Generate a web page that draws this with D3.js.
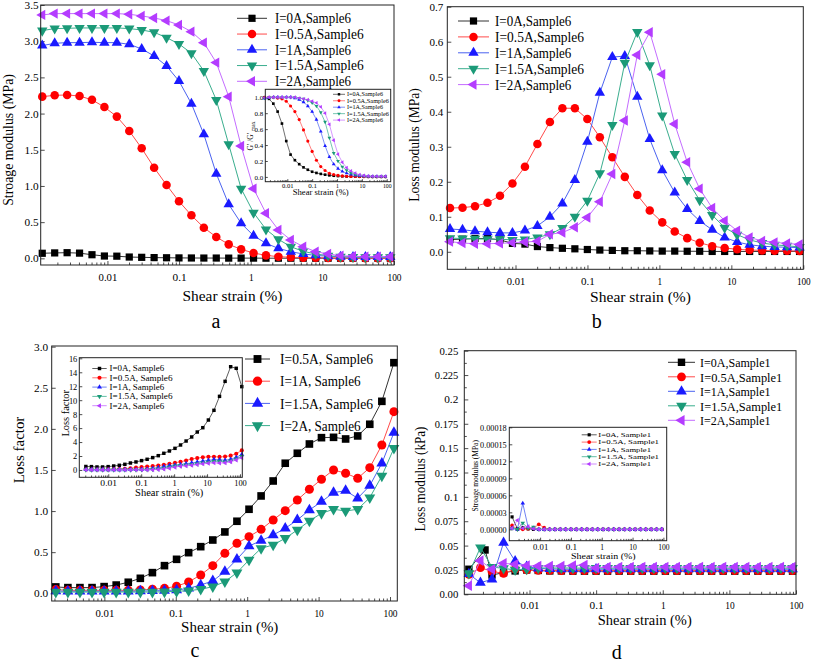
<!DOCTYPE html>
<html><head><meta charset="utf-8">
<script src="https://cdn.jsdelivr.net/npm/d3@7"></script>
<style>body{margin:0;background:#fff}svg{display:block}</style>
</head><body>
<svg id="chart" width="813" height="663"></svg>
<script>
// ---------------- DATA ----------------
const strain = [0.00123, 0.001834, 0.002735, 0.004078, 0.006081, 0.009068, 0.01352, 0.02016, 0.03006, 0.04482, 0.06683, 0.09966, 0.1486, 0.2216, 0.3304, 0.4927, 0.7345, 1.095, 1.633, 2.435, 3.631, 5.414, 8.072, 12.04, 17.95, 26.76, 39.90, 59.50, 88.72];
const strainC = [0.002089, 0.003084, 0.00455, 0.006721, 0.009917, 0.01464, 0.02161, 0.03189, 0.04707, 0.06948, 0.1026, 0.1514, 0.2235, 0.3299, 0.4868, 0.7186, 1.061, 1.566, 2.311, 3.411, 5.035, 7.432, 10.97, 16.19, 23.90, 35.28, 52.07, 76.86, 113.4];
const strainD0 = [0.00123, 0.00215, 0.002735, 0.004078, 0.006081, 0.009068, 0.01352, 0.02016, 0.03006, 0.04482, 0.06683, 0.09966, 0.1486, 0.2216, 0.3304, 0.4927, 0.7345, 1.095, 1.633, 2.435, 3.631, 5.414, 8.072, 12.04, 17.95, 26.76, 39.90, 59.50, 88.72];

// panel a: storage modulus (MPa)
const gA0  = [0.07, 0.075, 0.078, 0.072, 0.05, 0.032, 0.03, 0.018, 0.014, 0.01, 0.008, 0.006, 0.005, 0.004, 0.004, 0.003, 0.003, 0.003, 0.002, 0.002, 0.002, 0.002, 0.002, 0.002, 0.002, 0.002, 0.002, 0.002, 0.002];
const gA05 = [2.234, 2.252, 2.257, 2.243, 2.19, 2.09, 1.958, 1.76, 1.52, 1.253, 1.013, 0.788, 0.594, 0.424, 0.295, 0.193, 0.124, 0.074, 0.041, 0.023, 0.015, 0.01, 0.008, 0.006, 0.005, 0.004, 0.003, 0.003, 0.003];
const gA1  = [2.939, 2.971, 2.98, 2.98, 2.985, 2.98, 2.98, 2.957, 2.893, 2.796, 2.658, 2.45, 2.137, 1.713, 1.17, 0.746, 0.484, 0.313, 0.207, 0.138, 0.092, 0.06, 0.041, 0.028, 0.023, 0.018, 0.018, 0.018, 0.018];
const gA15 = [3.146, 3.174, 3.178, 3.183, 3.183, 3.183, 3.183, 3.174, 3.155, 3.123, 3.049, 2.962, 2.833, 2.589, 2.188, 1.575, 0.963, 0.631, 0.40, 0.263, 0.16, 0.097, 0.06, 0.037, 0.023, 0.018, 0.015, 0.015, 0.015];
const gA2  = [3.363, 3.381, 3.381, 3.381, 3.381, 3.381, 3.381, 3.372, 3.349, 3.321, 3.284, 3.224, 3.132, 2.98, 2.704, 2.234, 1.552, 0.963, 0.622, 0.392, 0.253, 0.161, 0.092, 0.06, 0.037, 0.028, 0.023, 0.023, 0.023];
// inset a: G'/G'max
const nA0  = [1.0, 0.98, 0.92, 0.82, 0.67, 0.45, 0.28, 0.21, 0.16, 0.12, 0.09, 0.065, 0.05, 0.038, 0.028, 0.02, 0.015, 0.011, 0.008, 0.006, 0.005, 0.004, 0.003, 0.003, 0.002, 0.002, 0.002, 0.002, 0.002];
const nA05 = [1.0, 1.0, 1.0, 0.99, 0.98, 0.95, 0.89, 0.82, 0.72, 0.59, 0.45, 0.32, 0.21, 0.13, 0.08, 0.045, 0.03, 0.02, 0.013, 0.009, 0.006, 0.005, 0.004, 0.003, 0.003, 0.002, 0.002, 0.002, 0.002];
const nA1  = [0.985, 0.995, 1, 1, 1, 1, 1, 0.99, 0.97, 0.94, 0.89, 0.82, 0.72, 0.57, 0.39, 0.25, 0.16, 0.105, 0.07, 0.046, 0.031, 0.02, 0.014, 0.009, 0.008, 0.006, 0.006, 0.006, 0.006];
const nA15 = [0.99, 1, 1, 1, 1, 1, 1, 1, 0.99, 0.98, 0.96, 0.93, 0.89, 0.81, 0.69, 0.49, 0.30, 0.2, 0.126, 0.083, 0.05, 0.03, 0.019, 0.012, 0.007, 0.005, 0.005, 0.005, 0.005];
const nA2  = [0.995, 1, 1, 1, 1, 1, 1, 1, 0.99, 0.98, 0.97, 0.95, 0.93, 0.88, 0.80, 0.66, 0.46, 0.285, 0.184, 0.116, 0.075, 0.048, 0.027, 0.018, 0.011, 0.008, 0.007, 0.007, 0.007];

// panel b: loss modulus (MPa)
const lB0  = [0.035, 0.036, 0.038, 0.038, 0.034, 0.024, 0.022, 0.015, 0.012, 0.01, 0.0085, 0.0065, 0.005, 0.004, 0.003, 0.003, 0.0025, 0.002, 0.002, 0.0015, 0.0015, 0.001, 0.001, 0.001, 0.001, 0.001, 0.001, 0.001, 0.001];
const lB05 = [0.125, 0.126, 0.13, 0.14, 0.16, 0.195, 0.243, 0.308, 0.371, 0.41, 0.41, 0.379, 0.327, 0.27, 0.214, 0.162, 0.118, 0.084, 0.058, 0.039, 0.026, 0.016, 0.011, 0.007, 0.005, 0.004, 0.003, 0.003, 0.002];
const lB1  = [0.065, 0.063, 0.059, 0.056, 0.054, 0.054, 0.061, 0.074, 0.1, 0.138, 0.205, 0.314, 0.454, 0.556, 0.559, 0.443, 0.322, 0.233, 0.169, 0.122, 0.088, 0.063, 0.041, 0.028, 0.02, 0.016, 0.014, 0.013, 0.012];
const lB15 = [0.039, 0.038, 0.037, 0.036, 0.036, 0.034, 0.035, 0.041, 0.05, 0.068, 0.1, 0.146, 0.224, 0.362, 0.54, 0.628, 0.533, 0.389, 0.279, 0.205, 0.147, 0.105, 0.069, 0.049, 0.034, 0.025, 0.02, 0.017, 0.014];
const lB2  = [0.029, 0.025, 0.023, 0.023, 0.024, 0.026, 0.028, 0.03, 0.05, 0.055, 0.07, 0.098, 0.143, 0.222, 0.375, 0.562, 0.627, 0.507, 0.365, 0.256, 0.18, 0.125, 0.089, 0.06, 0.041, 0.031, 0.027, 0.024, 0.021];

// panel c: loss factor
const lfC0  = [0.5, 0.48, 0.43, 0.43, 0.48, 0.57, 0.67, 0.81, 1.0, 1.15, 1.34, 1.53, 1.77, 2.05, 2.39, 2.72, 3.1, 3.58, 4.15, 4.73, 5.44, 6.06, 7.16, 8.55, 10.55, 12.7, 14.8, 14.57, 11.94];
const lfC05 = [0.077, 0.069, 0.069, 0.069, 0.081, 0.1, 0.134, 0.182, 0.251, 0.336, 0.413, 0.494, 0.567, 0.648, 0.746, 0.876, 1.022, 1.184, 1.366, 1.582, 1.703, 1.816, 1.893, 1.897, 1.877, 1.914, 2.056, 2.335, 2.805];
const lfC1  = [0.045, 0.036, 0.036, 0.036, 0.036, 0.036, 0.036, 0.04, 0.049, 0.06, 0.085, 0.138, 0.223, 0.336, 0.486, 0.608, 0.689, 0.778, 0.892, 1.005, 1.135, 1.265, 1.387, 1.5, 1.46, 1.399, 1.528, 1.804, 2.209];
const lfC15 = [0.028, 0.025, 0.025, 0.025, 0.025, 0.025, 0.025, 0.027, 0.03, 0.032, 0.04, 0.06, 0.101, 0.15, 0.263, 0.413, 0.575, 0.64, 0.709, 0.79, 0.892, 1.013, 1.114, 1.224, 1.248, 1.156, 1.309, 1.581, 1.954];
const lfC2  = [0.015, 0.015, 0.015, 0.015, 0.015, 0.015, 0.015, 0.015, 0.015, 0.018, 0.024, 0.032, 0.049, 0.08, 0.141, 0.251, 0.405, 0.547, 0.588, 0.669, 0.77, 0.88, 0.973, 1.022, 1.001, 1.022, 1.163, 1.427, 1.764];

// panel d: loss modulus (kPa), Sample1
const dL0  = [0.0257, 0.0455, 0.0198, 0.0222, 0.024, 0.025, 0.0245, 0.024, 0.024, 0.0238, 0.0238, 0.0238, 0.0238, 0.0238, 0.0238, 0.0238, 0.0238, 0.0238, 0.0238, 0.0238, 0.0238, 0.0238, 0.0238, 0.0238, 0.0238, 0.0238, 0.0238, 0.0238, 0.0238];
const dL05 = [0.0205, 0.0273, 0.0235, 0.0215, 0.0257, 0.025, 0.0245, 0.0245, 0.0244, 0.0243, 0.0243, 0.0243, 0.0243, 0.0243, 0.0243, 0.0243, 0.0243, 0.0243, 0.0243, 0.0243, 0.0243, 0.0243, 0.0243, 0.0243, 0.0243, 0.0243, 0.0243, 0.0243, 0.0243];
const dL1  = [0.0208, 0.0119, 0.0154, 0.053, 0.034, 0.0283, 0.0266, 0.026, 0.0257, 0.0257, 0.0257, 0.0257, 0.0257, 0.0257, 0.0257, 0.0257, 0.0257, 0.0257, 0.0257, 0.0257, 0.0257, 0.0257, 0.0257, 0.0257, 0.0257, 0.0257, 0.0257, 0.0257, 0.0257];
const dL15 = [0.0215, 0.048, 0.028, 0.0266, 0.025, 0.026, 0.027, 0.027, 0.027, 0.027, 0.0268, 0.0268, 0.0268, 0.0268, 0.0268, 0.0268, 0.0268, 0.0268, 0.0268, 0.0268, 0.0268, 0.0268, 0.0268, 0.0268, 0.0268, 0.0268, 0.0268, 0.0268, 0.0268];
const dL2  = [0.0088, 0.0345, 0.0257, 0.0318, 0.0308, 0.0294, 0.029, 0.029, 0.029, 0.0295, 0.03, 0.027, 0.028, 0.028, 0.028, 0.028, 0.028, 0.028, 0.028, 0.028, 0.028, 0.028, 0.028, 0.028, 0.028, 0.028, 0.028, 0.028, 0.028];
// inset d: storage modulus (MPa)
const dS0  = [0.000022, 0.000001, 0.000003, 0.000001, 0, 0, 0, 0, 0, 0, 0, 0, 0, 0, 0, 0, 0, 0, 0, 0, 0, 0, 0, 0, 0, 0, 0, 0, 0];
const dS05 = [0.000007, 0, 0, 0.000001, 0.000002, 0.000009, 0.000003, 0, 0, 0, 0, 0, 0, 0, 0, 0, 0, 0, 0, 0, 0, 0, 0, 0, 0, 0, 0, 0, 0];
const dS1  = [0.000002, 0, 0.000046, 0.000004, 0.000002, 0, 0, 0, 0, 0, 0, 0, 0, 0, 0, 0, 0, 0, 0, 0, 0, 0, 0, 0, 0, 0, 0, 0, 0];
const dS15 = [0.000002, 0, 0.000011, 0.000002, 0.000004, 0, 0, 0, 0, 0, 0, 0, 0, 0, 0, 0, 0, 0, 0, 0, 0, 0, 0, 0, 0, 0, 0, 0, 0];
const dS2  = [0.000002, 0.000016, 0.000002, 0.000005, 0.000001, 0, 0, 0, 0, 0, 0, 0, 0, 0, 0, 0, 0, 0, 0, 0, 0, 0, 0, 0, 0, 0, 0, 0, 0];

// tick values / labels
const xTicksLog = [0.01, 0.1, 1, 10, 100];
const xLabelsLog = ["0.01", "0.1", "1", "10", "100"];
const yTicksA = [0, 0.5, 1, 1.5, 2, 2.5, 3, 3.5];
const yLabelsA = ["0.0", "0.5", "1.0", "1.5", "2.0", "2.5", "3.0", "3.5"];
const yTicksAi = [0, 0.2, 0.4, 0.6, 0.8, 1.0];
const yLabelsAi = ["0.0", "0.2", "0.4", "0.6", "0.8", "1.0"];
const yTicksB = [0, 0.1, 0.2, 0.3, 0.4, 0.5, 0.6, 0.7];
const yLabelsB = ["0.0", "0.1", "0.2", "0.3", "0.4", "0.5", "0.6", "0.7"];
const yTicksC = [0, 0.5, 1, 1.5, 2, 2.5, 3];
const yLabelsC = ["0.0", "0.5", "1.0", "1.5", "2.0", "2.5", "3.0"];
const yTicksCi = [0, 2, 4, 6, 8, 10, 12, 14, 16];
const yLabelsCi = ["0", "2", "4", "6", "8", "10", "12", "14", "16"];
const yTicksD = [0, 0.025, 0.05, 0.075, 0.1, 0.125, 0.15, 0.175, 0.2, 0.225, 0.25];
const yLabelsD = ["0.00", "0.025", "0.05", "0.075", "0.1", "0.125", "0.15", "0.175", "0.2", "0.225", "0.25"];
const yTicksDi = [0, 0.00003, 0.00006, 0.00009, 0.00012, 0.00015, 0.00018];
const yLabelsDi = ["0.00000", "0.00003", "0.00006", "0.00009", "0.00012", "0.00015", "0.00018"];

const labelsA = ["I=0A,Sample6", "I=0.5A,Sample6", "I=1A,Sample6", "I=1.5A,Sample6", "I=2A,Sample6"];
const labelsC = ["I=0.5A, Sample6", "I=1A, Sample6", "I=1.5A, Sample6", "I=2A, Sample6"];
const labelsCi = ["I=0A, Sample6", "I=0.5A, Sample6", "I=1A, Sample6", "I=1.5A, Sample6", "I=2A, Sample6"];
const labelsD = ["I=0A,Sample1", "I=0.5A,Sample1", "I=1A,Sample1", "I=1.5A,Sample1", "I=2A,Sample1"];
const labelsDi = ["I=0A, Sample1", "I=0.5A, Sample1", "I=1A, Sample1", "I=1.5A, Sample1", "I=2A, Sample1"];

// ---------------- STYLE ----------------
const STY = [
  {color: "#000000", line: "#333333", sym: "square"},
  {color: "#ff0000", line: "#ff4a4a", sym: "circle"},
  {color: "#1a1aff", line: "#4b63f0", sym: "up"},
  {color: "#1b9a78", line: "#3aae8e", sym: "down"},
  {color: "#b43cff", line: "#c46cff", sym: "left"}
];
const SYMS = {
  square: [d3.symbolSquare, 0, 1.0],
  circle: [d3.symbolCircle, 0, 1.1],
  up: [d3.symbolTriangle, 0, 0.9],
  down: [d3.symbolTriangle, 180, 0.9],
  left: [d3.symbolTriangle, -90, 0.9]
};
const FONT = "'Liberation Serif','Times New Roman',serif";
const FRAME = "#222";
const svg = d3.select("#chart");

function fit(sel, size, cw) {
  sel.style("font-family", FONT).style("font-size", size + "px").attr("fill", "#000")
    .attr("textLength", function () { return this.textContent.length * cw; })
    .attr("lengthAdjust", "spacingAndGlyphs");
  return sel;
}
function minorValues(dom) {
  const out = [];
  for (let e = -4; e <= 3; e++) for (let m = 2; m <= 9; m++) {
    const v = m * Math.pow(10, e);
    if (v > dom[0] && v < dom[1]) out.push(v);
  }
  return out;
}
function sym(name, size) {
  const s = SYMS[name];
  return d3.symbol().type(s[0]).size(size * s[2])();
}

function drawPanel(o) {
  const [x0, x1, y0, y1] = o.box;
  const g = svg.append("g");
  const x = d3.scaleLog().domain(o.xDomain).range([x0, x1]);
  const y = d3.scaleLinear().domain(o.yDomain).range([y1, y0]);
  g.append("rect").attr("x", x0).attr("y", y0).attr("width", x1 - x0).attr("height", y1 - y0).attr("fill", "#fff");
  const mx = g.append("g").attr("transform", `translate(0,${y1})`)
    .call(d3.axisBottom(x).tickValues(minorValues(o.xDomain)).tickSize(-o.minor).tickFormat(""));
  mx.select(".domain").remove();
  const ax = g.append("g").attr("transform", `translate(0,${y1})`)
    .call(d3.axisBottom(x).tickValues(o.xTicks).tickFormat((d, i) => o.xLabels[i]).tickSize(-o.major).tickPadding(o.xPad));
  ax.select(".domain").remove();
  fit(ax.selectAll("text"), o.font, o.cw);
  const ay = g.append("g").attr("transform", `translate(${x0},0)`)
    .call(d3.axisLeft(y).tickValues(o.yTicks).tickFormat((d, i) => o.yLabels[i]).tickSize(-o.major).tickPadding(o.yPad));
  ay.select(".domain").remove();
  fit(ay.selectAll("text"), o.font, o.cw);
  if (o.yMinor) {
    const mids = o.yTicks.slice(1).map((v, i) => (v + o.yTicks[i]) / 2);
    const my = g.append("g").attr("transform", `translate(${x0},0)`)
      .call(d3.axisLeft(y).tickValues(mids).tickSize(-o.minor).tickFormat(""));
    my.select(".domain").remove();
  }
  g.selectAll(".tick line").attr("stroke", FRAME).attr("stroke-width", 0.8);
  const line = d3.line().x(d => x(d[0])).y(d => y(d[1]));
  o.series.forEach(s => {
    const pts = s.x.map((xv, i) => [xv, s.y[i]]);
    g.append("path").datum(pts).attr("fill", "none").attr("stroke", s.st.line)
      .attr("stroke-width", o.lw).attr("d", line);
    g.append("g").selectAll("path").data(pts).join("path")
      .attr("d", sym(s.st.sym, o.ms))
      .attr("transform", d => `translate(${x(d[0])},${y(d[1])}) rotate(${SYMS[s.st.sym][1]})`)
      .attr("fill", s.st.color);
  });
  g.append("rect").attr("x", x0).attr("y", y0).attr("width", x1 - x0).attr("height", y1 - y0)
    .attr("fill", "none").attr("stroke", FRAME).attr("stroke-width", 1);
  return g;
}

function legend(labels, styles, o) {
  const g = svg.append("g");
  labels.forEach((lab, i) => {
    const yy = o.y + i * o.dy, st = styles[i];
    g.append("line").attr("x1", o.x1).attr("x2", o.x2).attr("y1", yy).attr("y2", yy)
      .attr("stroke", st.line).attr("stroke-width", o.lw);
    g.append("path").attr("d", sym(st.sym, o.ms))
      .attr("transform", `translate(${(o.x1 + o.x2) / 2},${yy}) rotate(${SYMS[st.sym][1]})`)
      .attr("fill", st.color);
    fit(g.append("text").attr("x", o.tx).attr("y", yy).attr("dy", "0.35em").text(lab), o.font, o.cw);
  });
}

function title(txt, x, y, size, cw, rot) {
  const t = svg.append("text").attr("text-anchor", "middle").attr("dy", "0.35em")
    .attr("transform", `translate(${x},${y})` + (rot ? " rotate(-90)" : "")).text(txt);
  fit(t, size, cw);
}
function letter(txt, x, y) {
  svg.append("text").attr("x", x).attr("y", y).attr("text-anchor", "middle")
    .style("font-family", FONT).style("font-size", "20px").text(txt);
}

// ---------------- PANEL A ----------------
drawPanel({
  box: [40.7, 394, 5, 265], xDomain: [0.00117, 100], yDomain: [-0.092, 3.5],
  xTicks: xTicksLog, xLabels: xLabelsLog, yTicks: yTicksA, yLabels: yLabelsA,
  major: 4, minor: 2.5, xPad: 7.7, yPad: 2, font: 11, cw: 4.7, lw: 1, ms: 52,
  series: [gA0, gA05, gA1, gA15, gA2].map((v, i) => ({x: strain, y: v, st: STY[i]}))
});
legend(labelsA, STY, {x1: 237, x2: 267, tx: 275, y: 18.3, dy: 15.75, font: 14, cw: 6.33, ms: 52, lw: 1});
drawPanel({
  box: [265.3, 390.7, 89.3, 181.7], xDomain: [0.0013, 144.5], yDomain: [-0.06, 1.1],
  xTicks: xTicksLog, xLabels: xLabelsLog, yTicks: yTicksAi, yLabels: yLabelsAi,
  major: 2.5, minor: 1.5, xPad: 1.5, yPad: 2, font: 6.5, cw: 2.9, lw: 0.7, ms: 7,
  series: [nA0, nA05, nA1, nA15, nA2].map((v, i) => ({x: strain, y: v, st: STY[i]}))
});
legend(labelsA, STY, {x1: 333, x2: 345, tx: 347, y: 94.3, dy: 6.45, font: 5.8, cw: 3.0, ms: 6, lw: 0.7});
title("Shear strain (%)", 320.7, 192.2, 7.5, 3.5, false);
{
  const t = svg.append("text").attr("transform", "translate(250.8,136) rotate(-90)")
    .attr("text-anchor", "middle").attr("dy", "0.35em")
    .style("font-family", FONT).style("font-size", "7.5px");
  t.append("tspan").text("G' /G' ");
  t.append("tspan").attr("dy", "1.5").style("font-size", "5.5px").text("max");
}
title("Stroage modulus (MPa)", 8.3, 140, 14, 6.27, true);
title("Shear strain (%)", 232.5, 296.5, 14, 6.25, false);
letter("a", 216, 327.5);

// ---------------- PANEL B ----------------
drawPanel({
  box: [447.3, 803.3, 6.7, 269.3], xDomain: [0.001127, 100], yDomain: [-0.05, 0.7],
  xTicks: xTicksLog, xLabels: xLabelsLog, yTicks: yTicksB, yLabels: yLabelsB,
  major: 4, minor: 2.5, xPad: 8, yPad: 4, font: 11, cw: 4.6, lw: 1, ms: 52,
  series: [lB0, lB05, lB1, lB15, lB2].map((v, i) => ({x: strain, y: v, st: STY[i]}))
});
legend(labelsA, STY, {x1: 458, x2: 489, tx: 495, y: 21, dy: 15.9, font: 14, cw: 6.36, ms: 52, lw: 1});
title("Loss modulus (MPa)", 414.5, 145, 14, 6.3, true);
title("Shear strain (%)", 640.5, 296.7, 14, 6.3, false);
letter("b", 596.7, 327.5);

// ---------------- PANEL C ----------------
drawPanel({
  box: [51.7, 397.3, 346, 601], xDomain: [0.00183, 126.5], yDomain: [-0.094, 3.008],
  xTicks: xTicksLog, xLabels: xLabelsLog, yTicks: yTicksC, yLabels: yLabelsC,
  major: 4, minor: 2.5, xPad: 8, yPad: 3.5, font: 11, cw: 4.7, lw: 1, ms: 58,
  series: [lfC05, lfC1, lfC15, lfC2].map((v, i) => ({x: strainC, y: v, st: STY[i]}))
});
legend(labelsC, STY.slice(0, 4), {x1: 245, x2: 270, tx: 280, y: 359, dy: 22.2, font: 15, cw: 6.2, ms: 62, lw: 1});
drawPanel({
  box: [79.3, 242.3, 357.7, 477.3], xDomain: [0.00132, 117.5], yDomain: [-1.05, 16.09],
  xTicks: xTicksLog, xLabels: xLabelsLog, yTicks: yTicksCi, yLabels: yLabelsCi,
  major: 3, minor: 1.8, xPad: 2.7, yPad: 2, font: 9, cw: 4.2, lw: 0.8, ms: 12,
  series: [lfC0, lfC05, lfC1, lfC15, lfC2].map((v, i) => ({x: strainC, y: v, st: STY[i]}))
});
legend(labelsCi, STY, {x1: 92.3, x2: 106.7, tx: 109.5, y: 368.5, dy: 9.3, font: 8.5, cw: 4.2, ms: 12, lw: 0.8});
title("Shear strain (%)", 169.2, 492.7, 9.5, 4.27, false);
title("Loss factor", 65.8, 413.3, 9.5, 4.24, true);
title("Loss factor", 19, 450, 14, 6.06, true);
title("Shear strain (%)", 229.7, 626.7, 14, 6.08, false);
letter("c", 195, 657);

// ---------------- PANEL D ----------------
drawPanel({
  box: [464.3, 796, 350.7, 594.3], xDomain: [0.00105, 100], yDomain: [0, 0.25],
  xTicks: xTicksLog, xLabels: xLabelsLog, yTicks: yTicksD, yLabels: yLabelsD,
  major: 4, minor: 2.5, xPad: 7, yPad: 6, font: 11, cw: 4.7, lw: 1, ms: 55, yMinor: true,
  series: [[strainD0, dL0], [strain, dL05], [strain, dL1], [strain, dL15], [strain, dL2]]
    .map((p, i) => ({x: p[0], y: p[1], st: STY[i]}))
});
legend(labelsD, STY, {x1: 668, x2: 695, tx: 700, y: 362.3, dy: 14.5, font: 13.5, cw: 5.88, ms: 55, lw: 1});
drawPanel({
  box: [509.3, 666.7, 427.3, 540.7], xDomain: [0.001, 128], yDomain: [-0.00002, 0.00018],
  xTicks: xTicksLog, xLabels: xLabelsLog, yTicks: yTicksDi, yLabels: yLabelsDi,
  major: 3, minor: 1.8, xPad: 3.5, yPad: 2.6, font: 8.5, cw: 3.8, lw: 0.8, ms: 10,
  series: [dS0, dS05, dS1, dS15, dS2].map((v, i) => ({x: strain, y: v, st: STY[i]}))
});
legend(labelsDi, STY, {x1: 581.7, x2: 596.7, tx: 598.3, y: 434.8, dy: 7.3, font: 6.6, cw: 4.05, ms: 10, lw: 0.8});
title("Shear strain (%)", 603.3, 556, 9, 4.04, false);
title("Stroage modulus (MPa)", 475, 475.8, 8.5, 3.4, true);
title("Loss modulus (kPa)", 420.5, 479, 14, 5.83, true);
title("Shear strain (%)", 644.7, 620, 14, 5.875, false);
letter("d", 616.7, 658.5);
</script>
</body></html>
